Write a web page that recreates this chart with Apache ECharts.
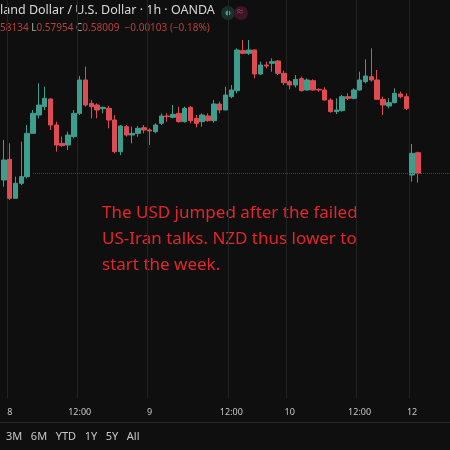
<!DOCTYPE html>
<html lang="en">
<head>
    <meta charset="UTF-8">
    <title>NZD/USD 1h</title>
    <script src="https://cdn.jsdelivr.net/npm/echarts@6/dist/echarts.min.js"></script>
    <style>body{margin:0;background:#0f0f0f;}</style>
</head>
<body>
<div id="main" style="width: 450px;height:450px;"></div>
<script>
    // [open, close, low, high]
    var candles = [
        [0.58060,0.58120,0.58040,0.58180],[0.58122,0.58005,0.58000,0.58170],[0.58005,0.58050,0.58005,0.58070],
        [0.58050,0.58070,0.58045,0.58175],[0.58070,0.58200,0.58065,0.58225],[0.58200,0.58260,0.58200,0.58270],
        [0.58255,0.58285,0.58245,0.58350],[0.58280,0.58305,0.58270,0.58340],[0.58303,0.58225,0.58210,0.58305],
        [0.58225,0.58165,0.58145,0.58235],[0.58170,0.58163,0.58160,0.58190],[0.58165,0.58195,0.58150,0.58205],
        [0.58190,0.58260,0.58185,0.58270],[0.58260,0.58360,0.58255,0.58372],[0.58360,0.58285,0.58280,0.58400],
        [0.58290,0.58280,0.58245,0.58300],[0.58285,0.58270,0.58245,0.58290],[0.58274,0.58278,0.58260,0.58280],
        [0.58275,0.58240,0.58215,0.58282],[0.58240,0.58145,0.58140,0.58255],[0.58145,0.58222,0.58135,0.58225],
        [0.58220,0.58195,0.58190,0.58225],[0.58195,0.58200,0.58170,0.58220],[0.58200,0.58215,0.58190,0.58222],
        [0.58217,0.58210,0.58200,0.58225],[0.58210,0.58207,0.58165,0.58215],[0.58205,0.58225,0.58200,0.58230],
        [0.58230,0.58252,0.58225,0.58260],[0.58252,0.58250,0.58235,0.58260],[0.58248,0.58257,0.58245,0.58285],
        [0.58260,0.58235,0.58232,0.58280],[0.58235,0.58275,0.58232,0.58280],[0.58278,0.58238,0.58230,0.58282],
        [0.58245,0.58230,0.58218,0.58255],[0.58235,0.58255,0.58220,0.58260],[0.58252,0.58238,0.58235,0.58260],
        [0.58238,0.58288,0.58232,0.58300],[0.58288,0.58270,0.58260,0.58295],[0.58270,0.58315,0.58270,0.58340],
        [0.58310,0.58330,0.58305,0.58345],[0.58328,0.58450,0.58320,0.58455],[0.58448,0.58440,0.58438,0.58480],
        [0.58440,0.58450,0.58435,0.58480],[0.58450,0.58378,0.58365,0.58452],[0.58378,0.58405,0.58375,0.58415],
        [0.58405,0.58402,0.58395,0.58415],[0.58410,0.58415,0.58385,0.58425],[0.58417,0.58380,0.58375,0.58420],
        [0.58380,0.58352,0.58345,0.58388],[0.58355,0.58345,0.58332,0.58360],[0.58345,0.58362,0.58338,0.58375],
        [0.58364,0.58328,0.58325,0.58370],[0.58330,0.58360,0.58328,0.58365],[0.58358,0.58330,0.58328,0.58362],
        [0.58332,0.58330,0.58325,0.58335],[0.58330,0.58300,0.58298,0.58338],[0.58300,0.58265,0.58262,0.58305],
        [0.58265,0.58270,0.58258,0.58305],[0.58268,0.58310,0.58265,0.58315],[0.58310,0.58305,0.58300,0.58320],
        [0.58305,0.58330,0.58302,0.58335],[0.58330,0.58360,0.58328,0.58385],[0.58355,0.58372,0.58350,0.58422],
        [0.58370,0.58360,0.58355,0.58455],[0.58360,0.58302,0.58300,0.58390],[0.58302,0.58285,0.58255,0.58310],
        [0.58282,0.58292,0.58275,0.58305],[0.58292,0.58320,0.58290,0.58335],[0.58318,0.58310,0.58305,0.58325],
        [0.58310,0.58275,0.58270,0.58320],[0.58075,0.58140,0.58055,0.58168],[0.58142,0.58080,0.58052,0.58145]
    ];
    var emptySlots = 5;
    var tickIndex = [1, 13, 25, 39, 49, 61, 70];
    var tickLabels = ['8', '12:00', '9', '12:00', '10', '12:00', '12'];
    var priceLine = 0.58080;
    var rangeButtons = '3M   6M   YTD   1Y   5Y   All';
    var noteLines = ['The USD jumped after the failed', 'US-Iran talks. NZD thus lower to', 'start the week.'];

    var cats = [];
    for (var i = 0; i < candles.length + emptySlots; i++) {
        var k = tickIndex.indexOf(i);
        cats.push(k >= 0 ? tickLabels[k] : '');
    }

    var myChart = echarts.init(document.getElementById('main'));
    var font = 'Noto Sans';
    option = {
        backgroundColor: '#0f0f0f',
        animation: false,
        grid: {left: 1, right: 0, top: 0, height: 398},
        xAxis: {
            type: 'category',
            data: cats,
            axisLine: {show: false},
            axisTick: {show: false},
            axisLabel: {
                interval: function (idx) { return tickIndex.indexOf(idx) >= 0; },
                color: '#c8c8c8', fontSize: 9, fontFamily: font, margin: 10
            },
            splitLine: {
                show: true,
                interval: function (idx) { return tickIndex.indexOf(idx) >= 0; },
                lineStyle: {color: '#232323', width: 1}
            }
        },
        yAxis: {
            type: 'value', min: 0.57406, max: 0.58600, show: false,
            splitLine: {show: false}
        },
        series: [{
            type: 'candlestick',
            data: candles,
            barWidth: 5,
            itemStyle: {
                color: '#3e9e8d', color0: '#de4c53',
                borderColor: '#3e9e8d', borderColor0: '#de4c53', borderWidth: 1
            },
            markLine: {
                symbol: 'none', silent: true,
                label: {show: false},
                lineStyle: {color: '#7a2a2c', type: 'dotted', width: 1},
                data: [[{coord: [5, priceLine]}, {x: 450, yAxis: priceLine}]]
            }
        }],
        graphic: [
            {type: 'rect', shape: {x: 0, y: 422, width: 450, height: 1}, style: {fill: '#262626'}},
            {type: 'text', left: 6, top: 431, style: {text: rangeButtons, fill: '#c8c8c8', fontSize: 11, fontFamily: font}},
            {type: 'text', left: 0, top: 4, style: {text: 'land Dollar / U.S. Dollar · 1h · OANDA', fill: '#d8d8d8', fontSize: 12.5, fontFamily: font}},
            {type: 'circle', shape: {cx: 228, cy: 13, r: 7}, style: {fill: '#16302b'}},
            {type: 'circle', shape: {cx: 228, cy: 13, r: 2.5}, style: {fill: '#3e9e8d'}},
            {type: 'circle', shape: {cx: 241, cy: 13, r: 7}, style: {fill: '#3a1626'}},
            {type: 'text', left: 237, top: 6, style: {text: '≈', fill: '#c04070', fontSize: 11, fontFamily: font}},
            {type: 'text', left: 0, top: 23, style: {
                text: '{r|58134} {g|L}{r|0.57954} {g|C}{r|0.58009  −0.00103 (−0.18%)}',
                fontSize: 10, fontFamily: font,
                rich: {r: {fill: '#b8403f', fontSize: 10, fontFamily: font}, g: {fill: '#b0b0b0', fontSize: 10, fontFamily: font}}
            }},
            {type: 'text', left: 102, top: 200, style: {text: noteLines.join('\n'), fill: '#e2262b', fontSize: 17, lineHeight: 26, fontFamily: font}}
        ]
    };
    myChart.setOption(option);
</script>
</body>
</html>
